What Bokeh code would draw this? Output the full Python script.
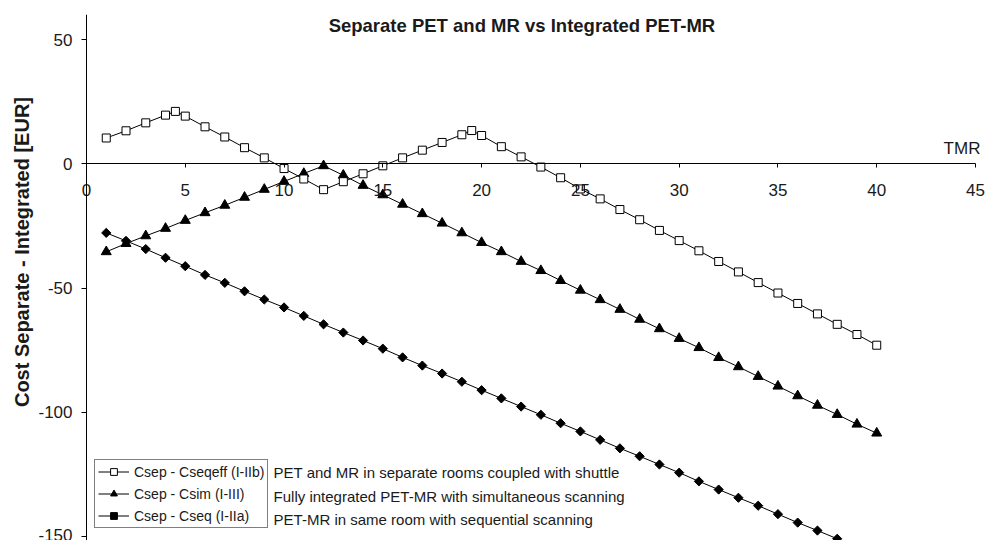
import numpy as np
from bokeh.plotting import figure
from bokeh.models import FixedTicker, Label, Legend, LegendItem, ColumnDataSource
from bokeh.embed import file_html
from bokeh.resources import INLINE

# ---- data ----
tmr_seqeff = [1, 2, 3, 4, 4.5, 5, 6, 7, 8, 9, 10, 11, 12, 13, 14, 15, 16, 17, 18, 19, 19.5,
              20, 21, 22, 23, 24, 25, 26, 27, 28, 29, 30, 31, 32, 33, 34, 35, 36, 37, 38, 39, 40]
cost_seqeff = [10.4, 13.3, 16.5, 19.6, 21.1, 19.2, 14.9, 10.8, 6.5, 2.4, -1.9, -6.1, -10.4,
               -7.2, -4.0, -0.8, 2.4, 5.5, 8.6, 11.7, 13.4, 11.4, 6.9, 2.8, -1.3, -5.6, -10.1,
               -14.1, -18.4, -22.5, -26.8, -30.9, -35.0, -39.3, -43.5, -47.8, -52.0, -56.2,
               -60.4, -64.6, -68.7, -73.0]

tmr = list(range(1, 41))
cost_sim = [-35.4, -32.1, -29.0, -26.0, -22.8, -19.7, -16.7, -13.5, -10.3, -7.1, -3.9, -0.8,
            -4.6, -8.7, -12.5, -16.3, -20.1, -23.9, -27.8, -31.7, -35.4, -39.3, -43.0, -47.0,
            -50.9, -54.7, -58.6, -62.6, -66.4, -70.3, -74.0, -78.0, -81.7, -85.6, -89.5, -93.4,
            -97.2, -100.9, -104.8, -108.4]
cost_seq = [-27.8, -31.0, -34.3, -37.8, -41.2, -44.7, -47.9, -51.3, -54.6, -57.8, -61.2, -64.6,
            -67.9, -71.1, -74.4, -77.9, -81.2, -84.4, -87.7, -91.1, -94.4, -97.7, -101.0, -104.4,
            -107.7, -111.1, -114.5, -117.7, -121.0, -124.3, -127.8, -131.1, -134.4, -137.6,
            -141.0, -144.4, -147.6, -150.9, -154.2, -157.5]

series_labels = ["Csep - Cseqeff (I-IIb)", "Csep - Csim (I-III)", "Csep - Cseq (I-IIa)"]
series_notes = ["PET and MR in separate rooms coupled with shuttle",
                "Fully integrated PET-MR with simultaneous scanning",
                "PET-MR in same room with sequential scanning"]
x_ticks = [0, 5, 10, 15, 20, 25, 30, 35, 40, 45]
y_ticks = [50, 0, -50, -100, -150]
title_text = "Separate PET and MR vs Integrated PET-MR"
y_title = "Cost Separate - Integrated [EUR]"
x_title = "TMR"

FONT = "Liberation Sans"
TXT = "#1a1a1a"

X0, X1 = 0, 45
Y0, Y1 = -151.6, 60.1

p = figure(width=999, height=540, output_backend="svg", toolbar_location=None,
           x_range=(-4.353, 46.215), y_range=(Y0, Y1),
           min_border=0, min_border_left=0, min_border_right=0,
           min_border_top=14, min_border_bottom=0)
p.outline_line_color = None
p.xgrid.visible = False
p.ygrid.visible = False
p.background_fill_color = "white"
p.border_fill_color = "white"

# axes (crossing at the origin)
xa = p.xaxis[0]
xa.fixed_location = 0
xa.bounds = (X0, X1)
xa.ticker = FixedTicker(ticks=x_ticks)
xa.major_tick_out = 4
xa.major_tick_in = 0
xa.minor_tick_line_color = None
xa.axis_line_color = "black"
xa.major_tick_line_color = "black"
xa.major_label_text_font = FONT
xa.major_label_text_font_size = "17px"
xa.major_label_text_color = TXT
xa.major_label_standoff = 16

ya = p.yaxis[0]
ya.fixed_location = 0
ya.bounds = (Y0, Y1)
ya.ticker = FixedTicker(ticks=y_ticks)
ya.major_label_overrides = {t: str(t) for t in y_ticks}
ya.major_tick_out = 5
ya.major_tick_in = 0
ya.minor_tick_line_color = None
ya.axis_line_color = "black"
ya.major_tick_line_color = "black"
ya.major_label_text_font = FONT
ya.major_label_text_font_size = "17px"
ya.major_label_text_color = TXT
ya.major_label_standoff = 9

# series
s1 = ColumnDataSource(dict(x=tmr_seqeff, y=cost_seqeff))
s2 = ColumnDataSource(dict(x=tmr, y=cost_sim))
s3 = ColumnDataSource(dict(x=tmr, y=cost_seq))

l3 = p.line("x", "y", source=s3, line_color="black", line_width=1)
m3 = p.scatter("x", "y", source=s3, marker="square", angle=np.pi / 4, size=6.5,
               fill_color="black", line_color="black", line_width=1)
l2 = p.line("x", "y", source=s2, line_color="black", line_width=1)
m2 = p.scatter("x", "y", source=s2, marker="triangle", size=10,
               fill_color="black", line_color="black", line_width=1)
l1 = p.line("x", "y", source=s1, line_color="black", line_width=1)
m1 = p.scatter("x", "y", source=s1, marker="square", size=8,
               fill_color="white", line_color="black", line_width=1)

legend = Legend(items=[LegendItem(label=series_labels[0], renderers=[l1, m1]),
                       LegendItem(label=series_labels[1], renderers=[l2, m2]),
                       LegendItem(label=series_labels[2], renderers=[l3, m3])],
                location=(94, 12), orientation="vertical")
legend.border_line_color = "black"
legend.border_line_width = 1
legend.background_fill_color = "white"
legend.background_fill_alpha = 1
legend.label_text_font = FONT
legend.label_text_font_size = "14px"
legend.label_text_color = TXT
legend.glyph_width = 31
legend.glyph_height = 17
legend.label_height = 17
legend.label_standoff = 5
legend.spacing = 5
legend.padding = 3
legend.margin = 0
p.add_layout(legend, "center")

# notes next to legend
note_y = [-124.2, -133.9, -143.1]
for t, yy in zip(series_notes, note_y):
    p.add_layout(Label(x=9.47, y=yy, text=t, text_font=FONT, text_font_size="15px",
                       text_color=TXT, text_align="left", text_baseline="middle"))

# title
p.add_layout(Label(x=22.04, y=55.5, text=title_text, text_font=FONT,
                   text_font_size="18.5px", text_font_style="bold", text_color=TXT,
                   text_align="center", text_baseline="middle"))
# x title
p.add_layout(Label(x=45.25, y=6.2, text=x_title, text_font=FONT,
                   text_font_size="17px", text_color=TXT,
                   text_align="right", text_baseline="middle"))
# y title
p.add_layout(Label(x=-3.29, y=-35.5, text=y_title, text_font=FONT,
                   text_font_size="20px", text_font_style="bold", text_color=TXT,
                   text_align="center", text_baseline="middle", angle=np.pi / 2))

open("out.html", "w").write(file_html(p, INLINE))
